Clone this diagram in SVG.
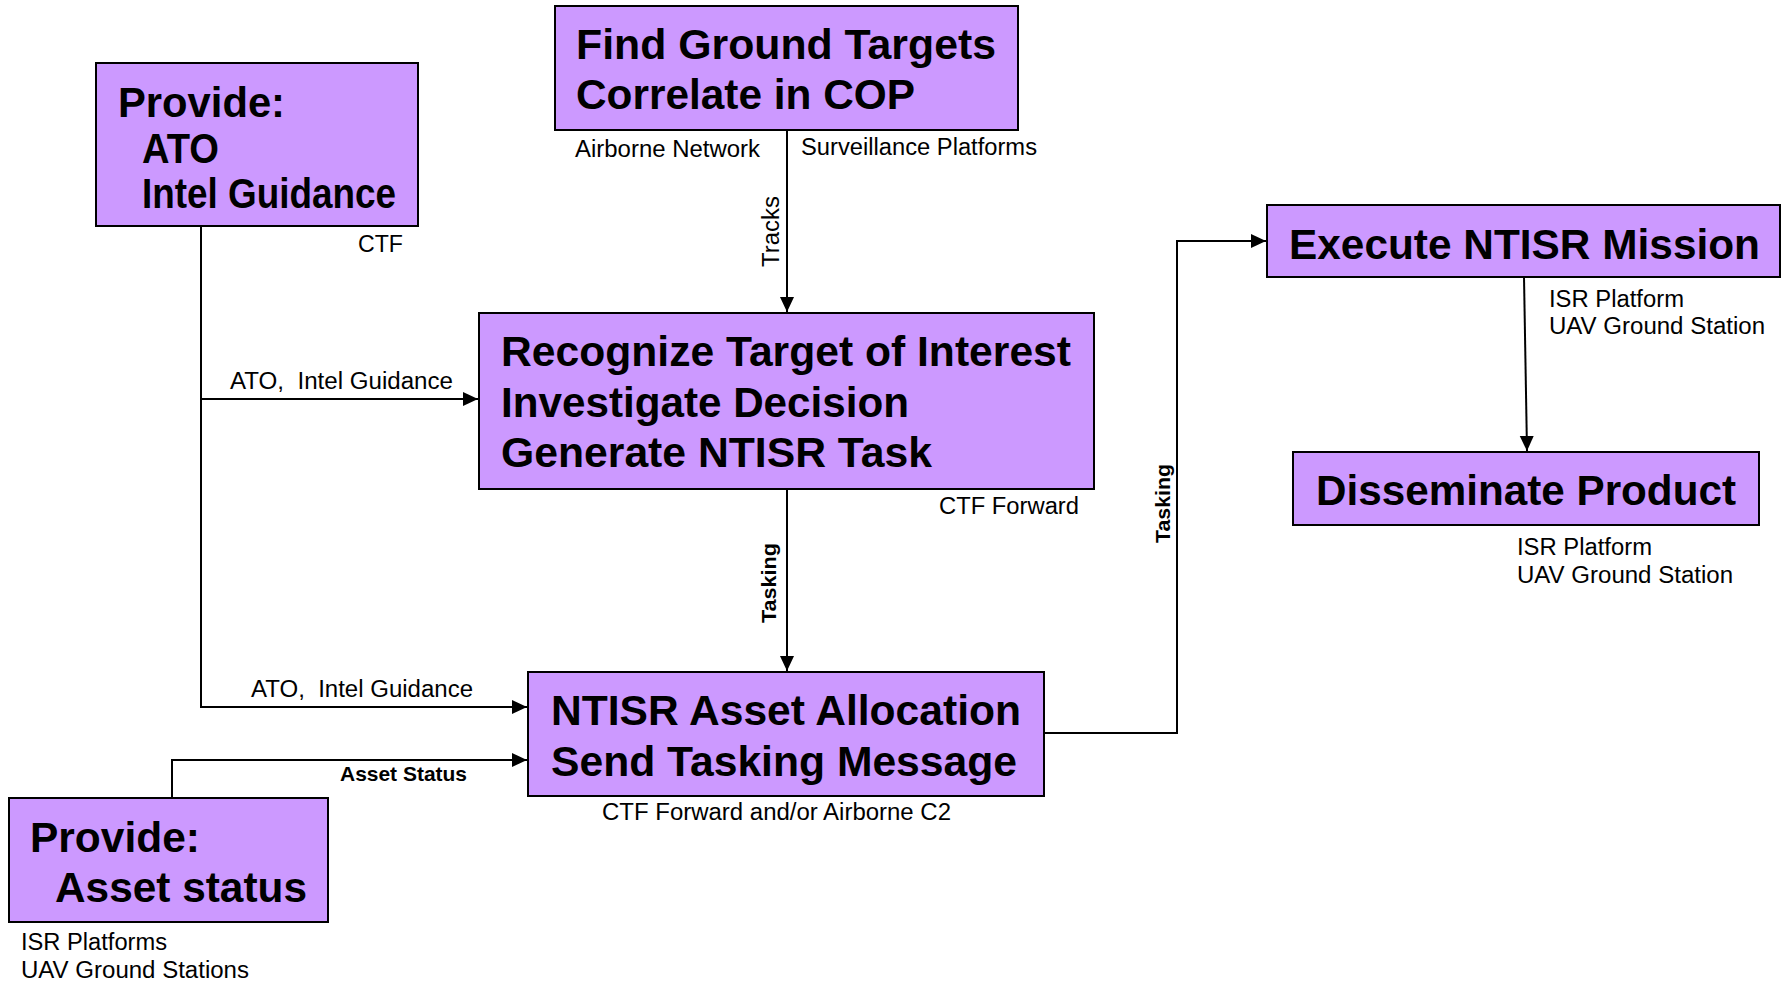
<svg xmlns="http://www.w3.org/2000/svg" width="1782" height="983" viewBox="0 0 1782 983">
<style>
.box{fill:#cc99ff;stroke:#000;stroke-width:2}
.big{font-family:"Liberation Sans",Arial,sans-serif;font-weight:bold;font-size:42px;fill:#000}
.sm{font-family:"Liberation Sans",Arial,sans-serif;font-size:23px;fill:#000}
.lb{font-family:"Liberation Sans",Arial,sans-serif;font-weight:bold;font-size:21px;fill:#000}
.ln{fill:none;stroke:#000;stroke-width:2}
</style>
<defs>
<marker id="ah" markerUnits="userSpaceOnUse" markerWidth="16" markerHeight="16" viewBox="0 0 16 16" refX="15" refY="8" orient="auto">
<path d="M0,1 L15,8 L0,15 Z" fill="#000"/>
</marker>
</defs>
<rect width="1782" height="983" fill="#fff"/>
<g id="connectors">
<path class="ln" d="M787,130 V312" marker-end="url(#ah)"/>
<path class="ln" d="M201,226 V707 H527" marker-end="url(#ah)"/>
<path class="ln" d="M201,399 H478" marker-end="url(#ah)"/>
<path class="ln" d="M787,489 V671" marker-end="url(#ah)"/>
<path class="ln" d="M172,798 V760 H527" marker-end="url(#ah)"/>
<path class="ln" d="M1044,733 H1177 V241 H1266" marker-end="url(#ah)"/>
<path class="ln" d="M1524,277 L1527,451" marker-end="url(#ah)"/>
<text class="sm" transform="translate(779,267) rotate(-90)" textLength="71" lengthAdjust="spacingAndGlyphs">Tracks</text>
<text class="sm" x="230" y="389" textLength="223" lengthAdjust="spacingAndGlyphs">ATO,&#160; Intel Guidance</text>
<text class="sm" x="251" y="697" textLength="222" lengthAdjust="spacingAndGlyphs">ATO,&#160; Intel Guidance</text>
<text class="lb" transform="translate(776,623) rotate(-90)" textLength="80" lengthAdjust="spacingAndGlyphs">Tasking</text>
<text class="lb" x="340" y="781" textLength="127" lengthAdjust="spacingAndGlyphs">Asset Status</text>
<text class="lb" transform="translate(1170,543) rotate(-90)" textLength="79" lengthAdjust="spacingAndGlyphs">Tasking</text>
</g>
<g id="provide-ato">
<rect class="box" x="96" y="63" width="322" height="163"/>
<text class="big" x="118" y="117" textLength="167" lengthAdjust="spacingAndGlyphs">Provide:</text>
<text class="big" x="142" y="163" textLength="77" lengthAdjust="spacingAndGlyphs">ATO</text>
<text class="big" x="142" y="208" textLength="254" lengthAdjust="spacingAndGlyphs">Intel Guidance</text>
<text class="sm" x="358" y="252" textLength="45" lengthAdjust="spacingAndGlyphs">CTF</text>
</g>
<g id="find-targets">
<rect class="box" x="555" y="6" width="463" height="124"/>
<text class="big" x="576" y="59" textLength="420" lengthAdjust="spacingAndGlyphs">Find Ground Targets</text>
<text class="big" x="576" y="109" textLength="339" lengthAdjust="spacingAndGlyphs">Correlate in COP</text>
<text class="sm" x="575" y="157" textLength="185" lengthAdjust="spacingAndGlyphs">Airborne Network</text>
<text class="sm" x="801" y="155" textLength="236" lengthAdjust="spacingAndGlyphs">Surveillance Platforms</text>
</g>
<g id="recognize">
<rect class="box" x="479" y="313" width="615" height="176"/>
<text class="big" x="501" y="366" textLength="570" lengthAdjust="spacingAndGlyphs">Recognize Target of Interest</text>
<text class="big" x="501" y="417" textLength="408" lengthAdjust="spacingAndGlyphs">Investigate Decision</text>
<text class="big" x="501" y="467" textLength="431" lengthAdjust="spacingAndGlyphs">Generate NTISR Task</text>
<text class="sm" x="939" y="514" textLength="140" lengthAdjust="spacingAndGlyphs">CTF Forward</text>
</g>
<g id="ntisr-allocation">
<rect class="box" x="528" y="672" width="516" height="124"/>
<text class="big" x="551" y="725" textLength="470" lengthAdjust="spacingAndGlyphs">NTISR Asset Allocation</text>
<text class="big" x="551" y="776" textLength="466" lengthAdjust="spacingAndGlyphs">Send Tasking Message</text>
<text class="sm" x="602" y="820" textLength="349" lengthAdjust="spacingAndGlyphs">CTF Forward and/or Airborne C2</text>
</g>
<g id="provide-asset">
<rect class="box" x="9" y="798" width="319" height="124"/>
<text class="big" x="30" y="852" textLength="170" lengthAdjust="spacingAndGlyphs">Provide:</text>
<text class="big" x="55" y="902" textLength="252" lengthAdjust="spacingAndGlyphs">Asset status</text>
<text class="sm" x="21" y="950" textLength="146" lengthAdjust="spacingAndGlyphs">ISR Platforms</text>
<text class="sm" x="21" y="978" textLength="228" lengthAdjust="spacingAndGlyphs">UAV Ground Stations</text>
</g>
<g id="execute">
<rect class="box" x="1267" y="205" width="513" height="72"/>
<text class="big" x="1289" y="259" textLength="471" lengthAdjust="spacingAndGlyphs">Execute NTISR Mission</text>
<text class="sm" x="1549" y="307" textLength="135" lengthAdjust="spacingAndGlyphs">ISR Platform</text>
<text class="sm" x="1549" y="334" textLength="216" lengthAdjust="spacingAndGlyphs">UAV Ground Station</text>
</g>
<g id="disseminate">
<rect class="box" x="1293" y="452" width="466" height="73"/>
<text class="big" x="1316" y="505" textLength="420" lengthAdjust="spacingAndGlyphs">Disseminate Product</text>
<text class="sm" x="1517" y="555" textLength="135" lengthAdjust="spacingAndGlyphs">ISR Platform</text>
<text class="sm" x="1517" y="583" textLength="216" lengthAdjust="spacingAndGlyphs">UAV Ground Station</text>
</g>
</svg>
